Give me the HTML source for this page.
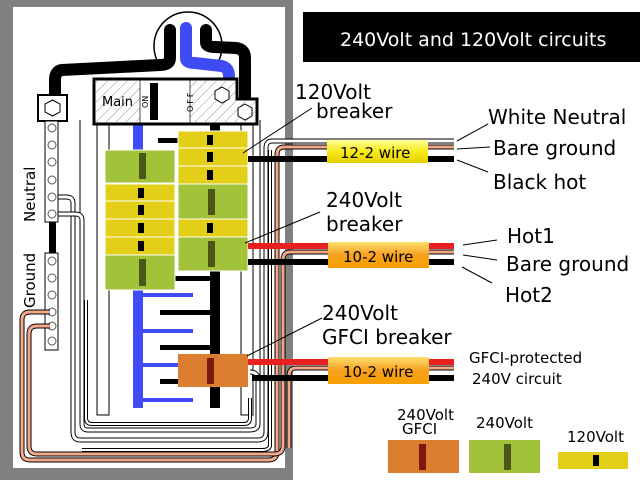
<!DOCTYPE html>
<html><head><meta charset="utf-8"><style>
html,body{margin:0;padding:0;background:#fff}
svg{display:block}
text{font-family:"DejaVu Sans","Liberation Sans",sans-serif}
</style></head><body>
<svg width="640" height="480" viewBox="0 0 640 480" xmlns="http://www.w3.org/2000/svg">
<defs>
<pattern id="h" width="7" height="7" patternUnits="userSpaceOnUse" patternTransform="rotate(45)">
<rect width="7" height="7" fill="#fff"/><line x1="0" y1="0" x2="0" y2="7" stroke="#777" stroke-width="0.8"/></pattern>
<linearGradient id="yg" x1="0" y1="0" x2="0" y2="1"><stop offset="0" stop-color="#ffff99"/><stop offset="0.5" stop-color="#f6ea1a"/><stop offset="1" stop-color="#e6cf00"/></linearGradient>
<linearGradient id="og" x1="0" y1="0" x2="0" y2="1"><stop offset="0" stop-color="#ffe070"/><stop offset="0.5" stop-color="#f8a020"/><stop offset="1" stop-color="#f5a000"/></linearGradient>
</defs>
<!-- panel frame -->
<rect x="0" y="0" width="293" height="480" fill="#808080"/>
<rect x="13" y="7" width="272" height="461" fill="#fff"/>
<!-- title -->
<rect x="303" y="12" width="337" height="50" fill="#000"/>
<text x="340" y="46" font-size="19" fill="#fff">240Volt and 120Volt circuits</text>
<!-- meter -->
<circle cx="188" cy="46" r="34" fill="#fff" stroke="#000" stroke-width="1.5"/>
<rect x="94" y="70" width="170" height="10" fill="#fff"/>
<!-- feed wires -->
<path d="M170 30 V58 Q170 65 160 65 L62 70 Q55 71 55 80 V100" fill="none" stroke="#000" stroke-width="12" stroke-linecap="round"/>
<path d="M206 30 V42 Q206 47 215 47 L236 48 Q245 49 245 58 V105" fill="none" stroke="#000" stroke-width="12" stroke-linecap="round"/>
<path d="M186 28 V58 Q186 63 195 63 L222 66 Q229 68 229 76" fill="none" stroke="#3f4cf5" stroke-width="12" stroke-linecap="round"/>
<!-- rails -->
<rect x="97" y="120" width="12" height="295" fill="#fff" stroke="#000" stroke-width="1"/>
<rect x="241" y="120" width="12" height="295" fill="#fff" stroke="#000" stroke-width="1"/>
<line x1="80" y1="120" x2="80" y2="420" stroke="#000" stroke-width="1"/>
<line x1="260" y1="120" x2="260" y2="420" stroke="#000" stroke-width="1"/>
<!-- white loops -->
<g fill="none" stroke-linejoin="round">
<path d="M300 141 H272 Q266 141 266 148 V432 Q266 440 258 440 H80 Q73 440 73 432 V203 Q73 197 66 197 H52" stroke="#000" stroke-width="5"/>
<path d="M300 141 H272 Q266 141 266 148 V432 Q266 440 258 440 H80 Q73 440 73 432 V203 Q73 197 66 197 H52" stroke="#fff" stroke-width="3"/>
<path d="M250 372 Q258 372 258 380 V424 Q258 430 250 430 H88 Q82 430 82 424 V220 Q82 214 75 214 H52" stroke="#000" stroke-width="5"/>
<path d="M250 372 Q258 372 258 380 V424 Q258 430 250 430 H88 Q82 430 82 424 V220 Q82 214 75 214 H52" stroke="#fff" stroke-width="3"/>
<path d="M270 150 V445 Q270 450 262 450 H82" stroke="#000" stroke-width="4"/>
<path d="M270 150 V445 Q270 450 262 450 H82" stroke="#fff" stroke-width="2"/>
<path d="M250 398 V418 Q250 424 244 424 H92 Q86 424 86 418 V300" stroke="#000" stroke-width="4"/>
<path d="M250 398 V418 Q250 424 244 424 H92 Q86 424 86 418 V300" stroke="#fff" stroke-width="2"/>
</g>
<!-- neutral bar -->
<rect x="38" y="95" width="29" height="26" fill="#fff" stroke="#000" stroke-width="2"/>
<polygon points="52.5,100 60,104 60,112 52.5,116 45,112 45,104" fill="#fff" stroke="#000"/>
<rect x="45" y="121" width="13" height="101" fill="#fff" stroke="#000"/>
<g fill="#fff" stroke="#555">
<circle cx="52" cy="128" r="4"/><circle cx="52" cy="145" r="4"/><circle cx="52" cy="162" r="4"/><circle cx="52" cy="180" r="4"/><circle cx="52" cy="197" r="4"/><circle cx="52" cy="214" r="4"/>
</g>
<rect x="49" y="222" width="7" height="32" fill="#000"/>
<text transform="translate(35,222) rotate(-90)" font-size="15">Neutral</text>
<rect x="45" y="253" width="13" height="97" fill="#fff" stroke="#000"/>
<g fill="#fff" stroke="#555">
<circle cx="52" cy="261" r="4"/><circle cx="52" cy="278" r="4"/><circle cx="52" cy="295" r="4"/><circle cx="52" cy="312" r="4"/><circle cx="52" cy="326" r="4"/><circle cx="52" cy="341" r="4"/>
</g>
<text transform="translate(35,308) rotate(-90)" font-size="15">Ground</text>
<!-- salmon ground wires -->
<g fill="none">
<path d="M300 147 H284 Q277 147 277 155 V452 Q277 460 268 460 H30 Q22 460 22 452 V320 Q22 312 30 312 H50" stroke="#000" stroke-width="5"/>
<path d="M300 147 H284 Q277 147 277 155 V452 Q277 460 268 460 H30 Q22 460 22 452 V320 Q22 312 30 312 H50" stroke="#f4a88a" stroke-width="3"/>
<path d="M300 252 H290 Q283 252 283 260 V446 Q283 454 274 454 H37 Q29 454 29 446 V334 Q29 326 37 326 H50" stroke="#000" stroke-width="5"/>
<path d="M300 252 H290 Q283 252 283 260 V446 Q283 454 274 454 H37 Q29 454 29 446 V334 Q29 326 37 326 H50" stroke="#f4a88a" stroke-width="3"/>
<path d="M300 368 H296 Q289 368 289 376 V448" stroke="#000" stroke-width="5"/>
<path d="M300 368 H296 Q289 368 289 376 V448" stroke="#f4a88a" stroke-width="3"/>
</g>
<!-- bus bars -->
<rect x="133" y="125" width="10" height="43" fill="#3f4cf5"/>
<rect x="133" y="280" width="10" height="128" fill="#3f4cf5"/>
<rect x="210" y="125" width="10" height="283" fill="#000"/>
<g fill="#3f4cf5"><rect x="143" y="293" width="50" height="4"/><rect x="143" y="329" width="50" height="4"/><rect x="143" y="363" width="35" height="4"/><rect x="143" y="398" width="50" height="4"/></g>
<g fill="#000"><rect x="158" y="138" width="20" height="5"/><rect x="175" y="276" width="35" height="5"/><rect x="160" y="310" width="50" height="5"/><rect x="160" y="345" width="50" height="5"/><rect x="160" y="379" width="20" height="5"/></g>
<!-- main breaker -->
<path d="M94 79 H237 V99 H257 V124 H94 Z" fill="#fff" stroke="#000" stroke-width="3"/>
<rect x="96" y="81" width="44" height="41" fill="url(#h)"/>
<rect x="190" y="81" width="45" height="41" fill="url(#h)"/>
<rect x="235" y="101" width="20" height="21" fill="url(#h)"/>
<line x1="140" y1="80" x2="140" y2="123" stroke="#000" stroke-width="0.7"/>
<line x1="190" y1="80" x2="190" y2="123" stroke="#000" stroke-width="0.7"/>
<rect x="150" y="83" width="8" height="37" fill="#000"/>
<text x="102" y="106" font-size="13">Main</text>
<text transform="translate(148,108) rotate(-90)" font-size="8">ON</text>
<text transform="translate(193,112) rotate(-90)" font-size="8" letter-spacing="2">OFF</text>
<polygon points="222,87 229,91 229,99 222,103 215,99 215,91" fill="#fff" stroke="#000"/>
<polygon points="245,104 252,108 252,116 245,120 238,116 238,108" fill="#fff" stroke="#000"/>
<rect x="213" y="124" width="6" height="8" fill="#000"/>
<!-- breakers left -->
<g stroke="#fff" stroke-width="1">
<rect x="105" y="150" width="70" height="33" fill="#a2c23a"/>
<rect x="105" y="184" width="70" height="17" fill="#e3cf17"/>
<rect x="105" y="201" width="70" height="18" fill="#e3cf17"/>
<rect x="105" y="219" width="70" height="18" fill="#e3cf17"/>
<rect x="105" y="237" width="70" height="18" fill="#e3cf17"/>
<rect x="105" y="255" width="70" height="35" fill="#a2c23a"/>
<rect x="178" y="131" width="70" height="17" fill="#e3cf17"/>
<rect x="178" y="148" width="70" height="18" fill="#e3cf17"/>
<rect x="178" y="166" width="70" height="18" fill="#e3cf17"/>
<rect x="178" y="184" width="70" height="35" fill="#a2c23a"/>
<rect x="178" y="219" width="70" height="18" fill="#e3cf17"/>
<rect x="178" y="237" width="70" height="34" fill="#a2c23a"/>
</g>
<g fill="#000">
<rect x="138" y="188" width="6" height="10"/><rect x="138" y="205" width="6" height="10"/><rect x="138" y="223" width="6" height="10"/><rect x="138" y="241" width="6" height="10"/>
<rect x="207" y="135" width="6" height="10"/><rect x="207" y="152" width="6" height="10"/><rect x="207" y="170" width="6" height="10"/><rect x="207" y="223" width="6" height="10"/>
</g>
<g fill="#4a5716">
<rect x="139" y="153" width="7" height="26"/><rect x="139" y="259" width="7" height="27"/><rect x="208" y="189" width="7" height="26"/><rect x="208" y="241" width="7" height="26"/>
</g>
<!-- GFCI breaker -->
<rect x="178" y="354" width="70" height="33" fill="#dc7e30"/>
<rect x="207" y="358" width="7" height="26" fill="#7a1a10"/>
<!-- cables -->
<rect x="248" y="156" width="206" height="6" fill="#000"/>
<rect x="248" y="243" width="206" height="6" fill="#e8201f"/>
<rect x="248" y="259" width="206" height="6" fill="#000"/>
<rect x="248" y="359" width="206" height="6" fill="#e8201f"/>
<rect x="252" y="375" width="202" height="6" fill="#000"/>
<g fill="none">
<path d="M300 141 H454" stroke="#000" stroke-width="5"/><path d="M300 141 H454" stroke="#fff" stroke-width="3"/>
<path d="M300 147 H454" stroke="#000" stroke-width="5"/><path d="M300 147 H454" stroke="#f4a88a" stroke-width="3"/>
<path d="M300 252 H454" stroke="#000" stroke-width="5"/><path d="M300 252 H454" stroke="#f4a88a" stroke-width="3"/>
<path d="M300 368 H454" stroke="#000" stroke-width="5"/><path d="M300 368 H454" stroke="#f4a88a" stroke-width="3"/>
</g>
<rect x="327" y="140" width="101" height="23" fill="url(#yg)"/>
<text x="340" y="158" font-size="15">12-2 wire</text>
<rect x="328" y="242" width="101" height="26" fill="url(#og)"/>
<text x="343" y="262" font-size="15">10-2 wire</text>
<rect x="328" y="357" width="101" height="27" fill="url(#og)"/>
<text x="343" y="377" font-size="15">10-2 wire</text>
<!-- leaders -->
<g stroke="#000" stroke-width="1">
<line x1="243" y1="153" x2="312" y2="108"/>
<line x1="245" y1="243" x2="320" y2="212"/>
<line x1="247" y1="356" x2="322" y2="318"/>
<line x1="457" y1="141" x2="488" y2="124"/>
<line x1="457" y1="149" x2="490" y2="147"/>
<line x1="457" y1="160" x2="488" y2="172"/>
<line x1="463" y1="245" x2="497" y2="240"/>
<line x1="463" y1="255" x2="497" y2="260"/>
<line x1="462" y1="267" x2="492" y2="283"/>
</g>
<!-- labels -->
<g font-size="20">
<text x="295" y="99">120Volt</text>
<text x="316" y="118">breaker</text>
<text x="488" y="124">White Neutral</text>
<text x="493" y="155">Bare ground</text>
<text x="493" y="189">Black hot</text>
<text x="326" y="207">240Volt</text>
<text x="326" y="231">breaker</text>
<text x="507" y="243">Hot1</text>
<text x="506" y="271">Bare ground</text>
<text x="505" y="302">Hot2</text>
<text x="322" y="320">240Volt</text>
<text x="322" y="344">GFCI breaker</text>
</g>
<text x="469" y="363" font-size="15">GFCI-protected</text>
<text x="472" y="384" font-size="15">240V circuit</text>
<!-- legend -->
<text x="397" y="420" font-size="15">240Volt</text>
<text x="402" y="434" font-size="15">GFCI</text>
<rect x="388" y="440" width="71" height="33" fill="#dc7e30"/>
<rect x="419" y="444" width="7" height="26" fill="#7a1a10"/>
<text x="476" y="428" font-size="15">240Volt</text>
<rect x="469" y="440" width="71" height="33" fill="#a2c23a"/>
<rect x="504" y="444" width="7" height="26" fill="#4a5716"/>
<text x="567" y="442" font-size="15">120Volt</text>
<rect x="558" y="452" width="70" height="17" fill="#e3cf17"/>
<rect x="593" y="455" width="6" height="11" fill="#000"/>
</svg>
</body></html>
